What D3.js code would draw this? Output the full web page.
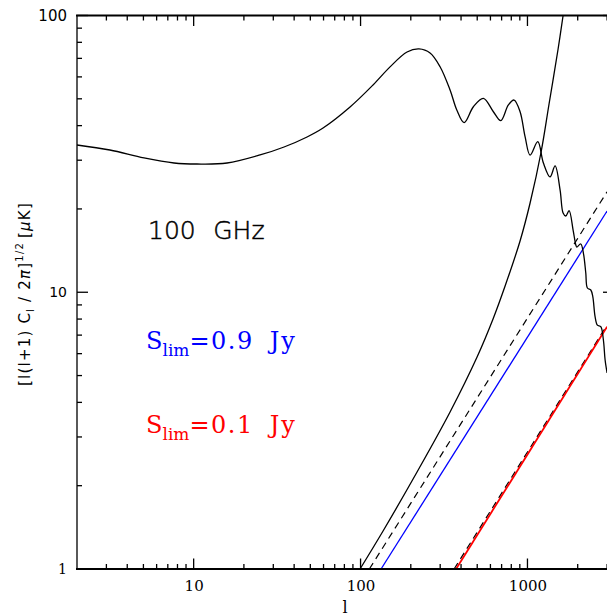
<!DOCTYPE html>
<html>
<head>
<meta charset="utf-8">
<script src="https://cdn.jsdelivr.net/npm/d3@7"></script>
<style>
    body { margin: 0; background: #fff; }
    svg { display: block; }
</style>
</head>
<body>
<svg id="chart" width="607" height="616"></svg>
<script>
// multipole l and temperature values
var cmbL = [2, 3.15, 5.04, 7.63, 10.47, 15.85, 25.0, 34.8, 47.8, 59.6, 86.5, 118.8, 150.2, 189.9, 224, 260.9,
    299.5, 343.8, 377.2, 417.2, 474.2, 544.3, 624.9, 692.1, 768.6, 831.5, 903.3, 967.6, 1037, 1153, 1246,
    1366, 1464, 1569, 1635, 1697, 1776, 1877, 1949, 1975, 2086, 2163, 2236, 2286, 2396, 2463, 2542, 2624,
    2750, 2851, 2919, 3000];
var cmbT = [34.05, 32.66, 30.56, 29.31, 29.07, 29.31, 31.33, 33.48, 36.4, 39.2, 46.7, 56.1, 65.2, 73.8, 75.7, 73.2,
    65.3, 53.8, 45.55, 41.0, 46.8, 50.2, 44.9, 41.7, 47.5, 49.5, 44.9, 36.5, 31.3, 35.0, 29.3,
    26.1, 28.6, 23.4, 19.34, 18.86, 19.71, 16.78, 14.82, 14.57, 14.94, 13.86, 11.74, 10.36, 10.19, 9.64, 8.16, 7.61,
    7.51, 6.72, 5.69, 5.11];

// rising curve, stops where it leaves the top of the box
var noiseL = [99.3, 136.4, 218, 343.8, 499, 622, 734.5, 903, 1037, 1207, 1347, 1526, 1635];
var noiseT = [1.0, 1.372, 2.241, 3.693, 5.834, 8.006, 10.53, 15.32, 21.01, 32.12, 47.88, 75.68, 100];

var src09L = [132.7, 3000], src09T = [1, 19.66];
var src09dL = [112.9, 3000], src09dT = [1, 23.08];
var src01L = [373.5, 3000], src01T = [1, 7.51];
var src01dL = [363.4, 3000], src01dT = [1, 7.61];

var xMajor = [10, 100, 1000];
var xMinor = [3, 4, 5, 6, 7, 8, 9, 20, 30, 40, 50, 60, 70, 80, 90, 200, 300, 400, 500, 600, 700, 800, 900, 2000, 3000];
var yMajor = [1, 10, 100];
var yMinor = [2, 3, 4, 5, 6, 7, 8, 9, 20, 30, 40, 50, 60, 70, 80, 90];

var svg = d3.select("#chart");

var x = d3.scaleLog().domain([2, 3300]).range([77, 614]);
var y = d3.scaleLog().domain([1, 100]).range([569, 15.5]);

var pLeft = x.range()[0], pRight = x.range()[1],
        pBottom = y.range()[0], pTop = y.range()[1];

function zip(a, b) {
    return a.map(function (d, i) { return [d, b[i]]; });
}

// ticks pointing into the box on all four sides, as thin filled bars
var tickW = 1.3;
function xTicks(vals, len) {
    [pBottom - len, pTop].forEach(function (y0) {
        svg.append("g").selectAll("rect").data(vals).join("rect")
            .attr("x", function (d) { return x(d) - tickW / 2; })
            .attr("y", y0)
            .attr("width", tickW)
            .attr("height", len)
            .attr("fill", "#000");
    });
}
function yTicks(vals, len) {
    [pLeft, pRight - len].forEach(function (x0) {
        svg.append("g").selectAll("rect").data(vals).join("rect")
            .attr("x", x0)
            .attr("y", function (d) { return y(d) - tickW / 2; })
            .attr("width", len)
            .attr("height", tickW)
            .attr("fill", "#000");
    });
}
xTicks(xMajor, 10.5);
xTicks(xMinor, 5);
yTicks(yMajor, 11);
yTicks(yMinor, 5);

var line = d3.line()
    .x(function (d) { return x(d[0]); })
    .y(function (d) { return y(d[1]); })
    .curve(d3.curveCatmullRom.alpha(0.5));

var plot = svg.append("g");

function drawCurve(data, color, width, dash) {
    plot.append("path")
        .datum(data)
        .attr("d", line)
        .attr("fill", "none")
        .attr("stroke", color)
        .attr("stroke-width", width)
        .attr("stroke-dasharray", dash || null);
}

drawCurve(zip(src09dL, src09dT), "#000", 1.2, "7,5");
drawCurve(zip(src01dL, src01dT), "#000", 1.2, "7,5");
drawCurve(zip(src09L, src09T), "#0000ff", 1.3);
drawCurve(zip(src01L, src01T), "#ff0000", 1.8);
drawCurve(zip(noiseL, noiseT), "#000", 1.3);
drawCurve(zip(cmbL, cmbT), "#000", 1.3);

// tick labels from d3 axes
var bottomAxis = svg.append("g")
    .attr("transform", "translate(0," + pBottom + ")")
    .call(d3.axisBottom(x).tickValues(xMajor).tickSize(0).tickPadding(11).tickFormat(d3.format("d")));
bottomAxis.select(".domain").remove();
bottomAxis.selectAll("text")
    .attr("font-family", "DejaVu Serif")
    .attr("font-size", 15)
    .attr("fill", "#000");

var leftAxis = svg.append("g")
    .attr("transform", "translate(" + pLeft + ",0)")
    .call(d3.axisLeft(y).tickValues(yMajor).tickSize(0).tickPadding(10).tickFormat(d3.format("d")));
leftAxis.select(".domain").remove();
leftAxis.selectAll("text")
    .attr("font-family", function (d) { return d === 1 ? "DejaVu Serif" : "DejaVu Sans"; })
    .attr("font-size", function (d) { return d === 100 ? 15 : 14; })
    .attr("fill", "#000");

// frame
var frame = d3.path();
frame.moveTo(pLeft - 1, pBottom);
frame.lineTo(pRight, pBottom);
frame.moveTo(pLeft - 1, pTop);
frame.lineTo(pRight, pTop);
svg.append("path").attr("d", frame.toString())
    .attr("fill", "none").attr("stroke", "#000").attr("stroke-width", 1.8);
var sides = d3.path();
sides.moveTo(pLeft, pTop - 0.5);
sides.lineTo(pLeft, pBottom + 1);
sides.moveTo(pRight, pTop - 0.5);
sides.lineTo(pRight, pBottom + 1);
svg.append("path").attr("d", sides.toString())
    .attr("fill", "none").attr("stroke", "#000").attr("stroke-width", 1.3);

// axis titles
svg.append("text")
    .attr("x", 345).attr("y", 613)
    .attr("text-anchor", "middle")
    .attr("font-family", "DejaVu Serif")
    .attr("font-size", 16)
    .text("l");

var ylab = svg.append("text")
    .attr("transform", "translate(30,294) rotate(-90)")
    .attr("text-anchor", "middle")
    .attr("font-family", "DejaVu Sans")
    .attr("font-size", 15)
    .attr("letter-spacing", 1.2);
ylab.append("tspan").text("[l(l+1) C");
ylab.append("tspan").attr("font-size", 10).attr("dy", 4).text("l");
ylab.append("tspan").attr("dy", -4).attr("dx", 6).text("/ 2");
ylab.append("tspan").attr("font-style", "italic").text("\u03c0");
ylab.append("tspan").text("]");
ylab.append("tspan").attr("font-size", 10).attr("dy", -7).text("1/2");
ylab.append("tspan").attr("dy", 7).attr("dx", 4).text("[");
ylab.append("tspan").attr("font-style", "italic").text("\u03bc");
ylab.append("tspan").text("K]");

// annotations
svg.append("text")
    .attr("x", 148).attr("y", 239)
    .attr("font-family", "DejaVu Sans")
    .attr("font-weight", 300)
    .attr("font-size", 25)
    .attr("fill", "#000")
    .attr("stroke", "#000")
    .attr("stroke-width", 0.5)
    .text("100\u2002\u2009GHz");

function slimLabel(val, color, base) {
    var t = svg.append("text")
        .attr("x", 146).attr("y", base)
        .attr("font-family", "DejaVu Serif")
        .attr("font-size", 24)
        .attr("fill", color);
    t.append("tspan").text("S");
    t.append("tspan").attr("font-size", 17).attr("dy", 7).text("lim");
    t.append("tspan").attr("dy", -7).attr("letter-spacing", 1.5).text("=" + val);
    t.append("tspan").attr("dx", 16).attr("letter-spacing", 2).text("Jy");
}
slimLabel("0.9", "#0000ff", 349);
slimLabel("0.1", "#ff0000", 433);
</script>
</body>
</html>
